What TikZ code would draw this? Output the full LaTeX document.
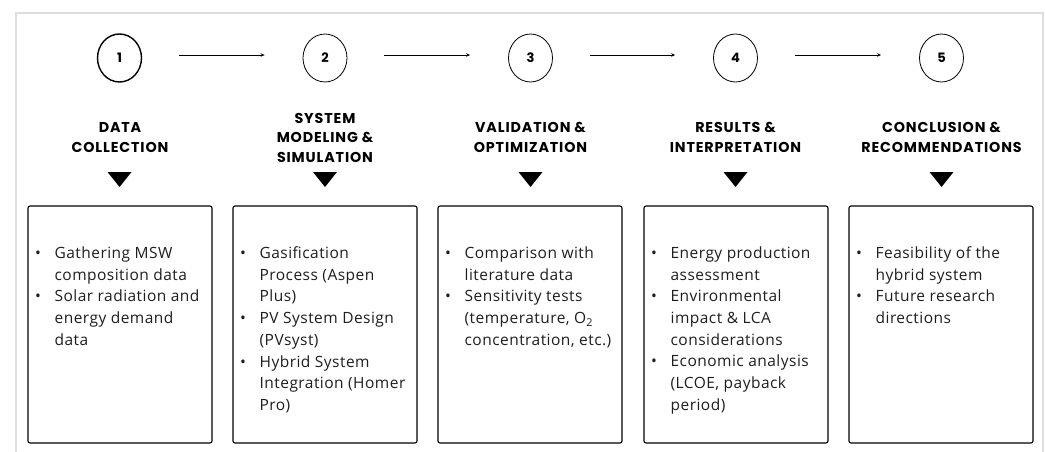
\documentclass[tikz,border=0pt]{standalone}
\usepackage{fontspec}
\setmainfont{Open Sans}[LetterSpace=3]
\newfontfamily\titlefont{Poppins}[LetterSpace=6]
\newfontfamily\numfont{Poppins}
\usetikzlibrary{arrows.meta,shapes.geometric}
\definecolor{framegray}{RGB}{222,222,222}
\definecolor{bodytext}{RGB}{30,30,30}
\newcommand\bitem[1]{\makebox[19.5pt][l]{\textbullet}#1}
\newcommand\bcont[1]{\hspace*{19.5pt}#1}
\tikzset{
  stepcircle/.style={draw=black, ellipse, minimum width=44pt, minimum height=48pt, inner sep=0pt, line width=0.8pt,
    font=\numfont\bfseries\fontsize{13}{15}\selectfont},
  flowarrow/.style={-{Stealth[length=4pt,width=3.5pt]}, line width=0.7pt, shorten <=37pt, shorten >=38pt},
  steptitle/.style={align=center, inner sep=0pt, font=\titlefont\bfseries\fontsize{14.3}{19.8}\selectfont},
  stepbox/.style={draw=black, rounded corners=2pt, line width=1.1pt, minimum width=184pt, minimum height=237pt, inner sep=0pt},
  bodytextnode/.style={anchor=north west, align=left, inner sep=0pt, text=bodytext, font=\fontsize{15.5}{21.7}\selectfont},
  marker/.style={fill=black},
}
\begin{document}
\begin{tikzpicture}[x=1pt,y=-1pt]
\useasboundingbox (0,0) rectangle (1045,452);
\fill[white] (0,0) rectangle (1045,452);
\draw[framegray, line width=1.6pt] (16,452) -- (16,13) -- (1043,13) -- (1043,452);

% circles
\node[stepcircle, line width=1.4pt] (c1) at (119.5,58) {1};
\node[stepcircle] (c2) at (325,58) {2};
\node[stepcircle] (c3) at (530.5,58) {3};
\node[stepcircle] (c4) at (735.5,58) {4};
\node[stepcircle] (c5) at (941.5,58) {5};

\draw[flowarrow] ([yshift=3pt]c1.east) -- ([yshift=3pt]c2.west);
\draw[flowarrow] ([yshift=3pt]c2.east) -- ([yshift=3pt]c3.west);
\draw[flowarrow] ([yshift=3pt]c3.east) -- ([yshift=3pt]c4.west);
\draw[flowarrow] ([yshift=3pt]c4.east) -- ([yshift=3pt]c5.west);

% titles
\node[steptitle] (t1) at (120,137.8) {DATA\\COLLECTION};
\node[steptitle] (t2) at (325,137.8) {SYSTEM\\MODELING \&\\SIMULATION};
\node[steptitle] (t3) at (530.5,137.8) {VALIDATION \&\\OPTIMIZATION};
\node[steptitle] (t4) at (735.5,137.8) {RESULTS \&\\INTERPRETATION};
\node[steptitle] (t5) at (941.5,137.8) {CONCLUSION \&\\RECOMMENDATIONS};

% down markers
\foreach \cx/\nm in {119.5/m1,325/m2,530.5/m3,735.5/m4,941.5/m5}{
  \coordinate (\nm) at (\cx,172);
  \fill[marker] ([xshift=-12pt]\nm) -- ([xshift=12pt]\nm) -- ([yshift=-15pt]\nm) -- cycle;
}

% boxes
\node[stepbox] (b1) at (120,324.5) {};
\node[stepbox] (b2) at (325,324.5) {};
\node[stepbox] (b3) at (530,324.5) {};
\node[stepbox] (b4) at (736,324.5) {};
\node[stepbox] (b5) at (941,324.5) {};

\node[bodytextnode] (x1) at ([xshift=7.5pt,yshift=-41pt]b1.north west) {%
\bitem{Gathering MSW}\\ \bcont{composition data}\\
\bitem{Solar radiation and}\\ \bcont{energy demand}\\ \bcont{data}};
\node[bodytextnode] (x2) at ([xshift=7.5pt,yshift=-41pt]b2.north west) {%
\bitem{Gasification}\\ \bcont{Process (Aspen}\\ \bcont{Plus)}\\
\bitem{PV System Design}\\ \bcont{(PVsyst)}\\
\bitem{Hybrid System}\\ \bcont{Integration (Homer}\\ \bcont{Pro)}};
\node[bodytextnode] (x3) at ([xshift=7.5pt,yshift=-41pt]b3.north west) {%
\bitem{Comparison with}\\ \bcont{literature data}\\
\bitem{Sensitivity tests}\\ \bcont{(temperature, O\textsubscript{2}}\\ \bcont{concentration, etc.)}};
\node[bodytextnode] (x4) at ([xshift=7.5pt,yshift=-41pt]b4.north west) {%
\bitem{Energy production}\\ \bcont{assessment}\\
\bitem{Environmental}\\ \bcont{impact \& LCA}\\ \bcont{considerations}\\
\bitem{Economic analysis}\\ \bcont{(LCOE, payback}\\ \bcont{period)}};
\node[bodytextnode] (x5) at ([xshift=7.5pt,yshift=-41pt]b5.north west) {%
\bitem{Feasibility of the}\\ \bcont{hybrid system}\\
\bitem{Future research}\\ \bcont{directions}};
\end{tikzpicture}
\end{document}
